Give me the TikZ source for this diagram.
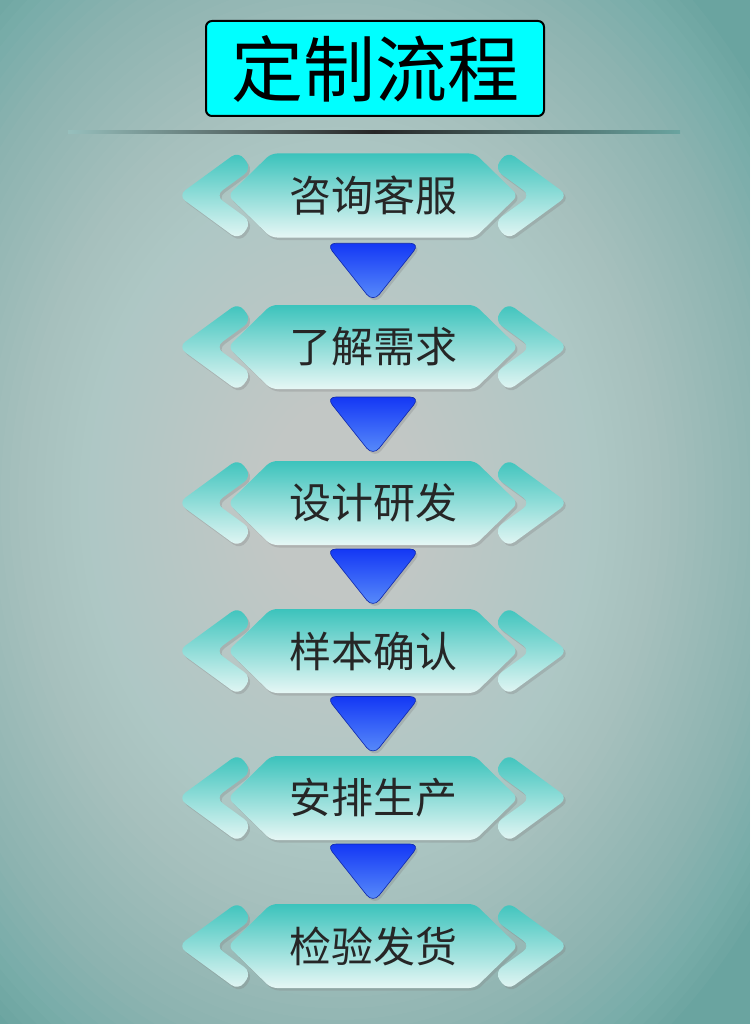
\documentclass[tikz,border=0pt]{standalone}
\usepackage{fontspec}
\newfontfamily\cjk{Noto Sans CJK SC}
\usepackage{tikz}
\usetikzlibrary{positioning,calc,shadows,backgrounds}
\definecolor{bgin}{HTML}{DEE3E1}
\definecolor{bgout}{HTML}{6AA4A0}
\definecolor{tealtop}{HTML}{3CC3BC}
\definecolor{tealbot}{HTML}{E6F7F5}
\definecolor{bluetop}{HTML}{1438F5}
\definecolor{bluebot}{HTML}{5C90FA}
\definecolor{inkgray}{HTML}{262626}
\definecolor{titlecyan}{HTML}{00FFFF}

\begin{document}
\begin{tikzpicture}[x=1pt,y=-1pt]
\tikzstyle{softshadow}=[drop shadow={opacity=.3,shadow xshift=2pt,shadow yshift=-2.5pt}]
\tikzstyle{titlebox}=[draw=black,line width=2pt,fill=titlecyan,rounded corners=6pt,minimum width=338pt,minimum height=95pt,inner sep=0pt,font=\cjk\fontsize{72}{72}\selectfont]
\tikzstyle{steplabel}=[inner sep=0pt,text=inkgray,font=\cjk\fontsize{42}{42}\selectfont]
\tikzstyle{hexbox}=[top color=tealtop,bottom color=tealbot,rounded corners=6pt,softshadow]
\tikzstyle{chevron}=[top color=tealtop,bottom color=tealbot,rounded corners=9pt,softshadow]
\tikzstyle{downtri}=[top color=bluetop,bottom color=bluebot,draw=bluetop!70!black,line width=.6pt,rounded corners=10pt,softshadow]
\useasboundingbox (0,0) rectangle (750,1024);
% background
\begin{scope}
\clip (0,0) rectangle (750,1024);
\fill[bgout] (0,0) rectangle (750,1024);
\foreach \k in {60,...,1}
\fill[bgin,opacity=.034] (340,500) ellipse ({8.7*\k} and {11.3*\k});
\end{scope}
% title
\node [titlebox] (title) at (375,68.5) {定制流程};
\shade [left color=bgout!70!white,right color=bgout,middle color=black!85] (68,131) rectangle (680,133.5);
% steps
\foreach \yy/\txt [count=\i] in {195.5/咨询客服,347/了解需求,503/设计研发,651/样本确认,798/安排生产,946/检验发货}
{
\begin{scope}[shift={(373,\yy)}]
\path [chevron] (-195,0) -- (-134.3,-44.3) -- (-121.3,-26.5) -- (-157.7,0) -- (-121.3,26.5) -- (-134.3,44.3) -- cycle;
\begin{scope}[xscale=-1]
\path [chevron] (-195,0) -- (-134.3,-44.3) -- (-121.3,-26.5) -- (-157.7,0) -- (-121.3,26.5) -- (-134.3,44.3) -- cycle;
\end{scope}
\path [hexbox] (-145,0) -- (-102,-42) -- (102,-42) -- (145,0) -- (102,42) -- (-102,42) -- cycle;
\node [steplabel] (s\i) at (0,0) {\txt};
\end{scope}
}
% arrows between steps
\foreach \i/\j in {1/2,2/3,3/4,4/5,5/6}
\path [downtri] ($(s\i)!.5!(s\j)+(-47,-28)$) -- ($(s\i)!.5!(s\j)+(47,-28)$) -- ($(s\i)!.5!(s\j)+(0,31)$) -- cycle;
\end{tikzpicture}
\end{document}
